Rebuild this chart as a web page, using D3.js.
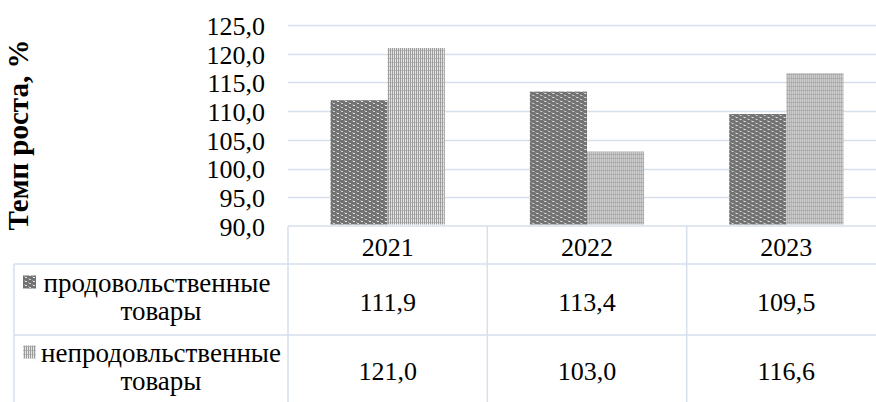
<!DOCTYPE html>
<html>
<head>
<meta charset="utf-8">
<script src="https://cdn.jsdelivr.net/npm/d3@7"></script>
<style>
  html, body { margin: 0; padding: 0; background: #fff; }
  svg text { font-family: "Liberation Serif", "Times New Roman", Tinos, "DejaVu Serif", serif; }
</style>
</head>
<body>
<svg id="chart" width="876" height="402"></svg>
<script>
// Growth rates of retail turnover, % to previous year
const years = ["2021", "2022", "2023"];
const foodValues = [111.9, 113.4, 109.5];
const nonFoodValues = [121.0, 103.0, 116.6];
const seriesLines = [["продовольственные", "товары"], ["непродовльственные", "товары"]];
const yTicks = [90, 95, 100, 105, 110, 115, 120, 125];
const yTitle = "Темп роста, %";

const FONT = "'Liberation Serif', 'Times New Roman', Tinos, serif";
const svg = d3.select("#chart");
const plot = { left: 288, right: 886, top: 25, bottom: 226 };
const table = { left: 14, headerBottom: 264, row1Bottom: 335, bottom: 402 };
const gridColor = "#d6dfeb";
const fmt = v => d3.format(".1f")(v).replace(".", ",");

// Fill patterns for the two series
const defs = svg.append("defs");
const pFood = defs.append("pattern").attr("id", "pat-food")
  .attr("patternUnits", "userSpaceOnUse").attr("width", 8).attr("height", 4);
pFood.append("rect").attr("width", 8).attr("height", 4).attr("fill", "#727272");
pFood.append("rect").attr("x", 0).attr("y", 0).attr("width", 1).attr("height", 1).attr("fill", "#9a9a9a");
pFood.append("rect").attr("x", 4).attr("y", 2).attr("width", 1).attr("height", 1).attr("fill", "#9a9a9a");
pFood.append("rect").attr("x", 1).attr("y", 1).attr("width", 2).attr("height", 1).attr("fill", "#e8e8e8");
pFood.append("rect").attr("x", 5).attr("y", 3).attr("width", 2).attr("height", 1).attr("fill", "#d0d0d0");

const pNon = defs.append("pattern").attr("id", "pat-non")
  .attr("patternUnits", "userSpaceOnUse").attr("width", 2).attr("height", 4);
pNon.append("rect").attr("width", 2).attr("height", 4).attr("fill", "#e6e6e6");
pNon.append("rect").attr("x", 0).attr("width", 1).attr("height", 4).attr("fill", "#9c9c9c");
pNon.append("rect").attr("x", 1).attr("y", 2).attr("width", 1).attr("height", 1).attr("fill", "#bdbdbd");

const patterns = ["url(#pat-food)", "url(#pat-non)"];

// Scales
const y = d3.scaleLinear().domain([90, 125]).range([plot.bottom, plot.top]);
const x0 = d3.scaleBand().domain(years).range([plot.left, plot.right]).paddingInner(0).paddingOuter(0);
const x1 = d3.scaleBand().domain([0, 1]).range([0, x0.bandwidth()]).paddingInner(0).paddingOuter(0.745);

// Horizontal gridlines
svg.append("g").selectAll("line").data(yTicks.filter(t => t > 90)).join("line")
  .attr("x1", plot.left).attr("x2", plot.right)
  .attr("y1", d => Math.round(y(d)) + 0.5).attr("y2", d => Math.round(y(d)) + 0.5)
  .attr("stroke", gridColor).attr("stroke-width", 1.3);

// Y axis labels
const yAxis = d3.axisLeft(y).tickValues(yTicks).tickFormat(fmt).tickSize(0).tickPadding(0);
const gy = svg.append("g").attr("transform", `translate(${265},1)`).call(yAxis)
  .attr("font-family", FONT).attr("font-size", 26);
gy.select(".domain").remove();
gy.selectAll("text").attr("fill", "#000");

// Y title
svg.append("text")
  .attr("transform", `translate(28,${135}) rotate(-90)`)
  .attr("text-anchor", "middle")
  .attr("font-family", FONT)
  .attr("font-size", 29).attr("font-weight", "bold").attr("fill", "#000")
  .text(yTitle);

// Bars
const data = years.map((yr, i) => ({ year: yr, values: [foodValues[i], nonFoodValues[i]] }));
const groups = svg.append("g").selectAll("g").data(data).join("g")
  .attr("transform", d => `translate(${x0(d.year)},0)`);
groups.selectAll("rect").data(d => d.values.map((v, s) => ({ v, s }))).join("rect")
  .attr("x", d => x1(d.s)).attr("width", x1.bandwidth())
  .attr("y", d => y(d.v)).attr("height", d => y(90) - y(d.v) - 1.5)
  .attr("fill", d => patterns[d.s]);

// Data table grid
const tg = svg.append("g").attr("stroke", gridColor).attr("stroke-width", 1.5);
tg.append("line").attr("x1", plot.left).attr("x2", plot.right).attr("y1", plot.bottom).attr("y2", plot.bottom);
tg.append("line").attr("x1", table.left).attr("x2", plot.right).attr("y1", table.headerBottom).attr("y2", table.headerBottom);
tg.append("line").attr("x1", table.left).attr("x2", plot.right).attr("y1", table.row1Bottom).attr("y2", table.row1Bottom);
tg.append("line").attr("x1", table.left).attr("x2", table.left).attr("y1", table.headerBottom).attr("y2", table.bottom);
tg.selectAll("line.v").data(years.concat(["end"])).join("line").attr("class", "v")
  .attr("x1", d => d === "end" ? plot.right : x0(d)).attr("x2", d => d === "end" ? plot.right : x0(d))
  .attr("y1", plot.bottom).attr("y2", table.bottom);

const textG = svg.append("g").attr("font-family", FONT).attr("font-size", 26).attr("fill", "#000");

// Header (categories)
textG.append("g").selectAll("text").data(years).join("text")
  .attr("x", d => x0(d) + x0.bandwidth() / 2).attr("y", 256)
  .attr("text-anchor", "middle")
  .text(d => d);

// Value rows
const valueBaselines = [310.5, 380];
[foodValues, nonFoodValues].forEach((vals, s) => {
  textG.append("g").selectAll("text").data(vals).join("text")
    .attr("x", (d, i) => x0(years[i]) + x0.bandwidth() / 2).attr("y", valueBaselines[s])
    .attr("text-anchor", "middle")
    .text(d => fmt(d));
});

// Legend cells: key + two-line label
const legendBaselines = [[291.5, 319.5], [361.5, 390]];
seriesLines.forEach((lines, s) => {
  const [b1, b2] = legendBaselines[s];
  svg.append("rect").attr("x", 23).attr("y", b1 - 16).attr("width", 13).attr("height", 13)
    .attr("fill", patterns[s]);
  textG.append("text").attr("x", s === 0 ? 157 : 161).attr("y", b1)
    .attr("font-size", 27).attr("text-anchor", "middle")
    .text(lines[0]);
  textG.append("text").attr("x", 161).attr("y", b2)
    .attr("font-size", 27).attr("text-anchor", "middle")
    .text(lines[1]);
});
</script>
</body>
</html>
